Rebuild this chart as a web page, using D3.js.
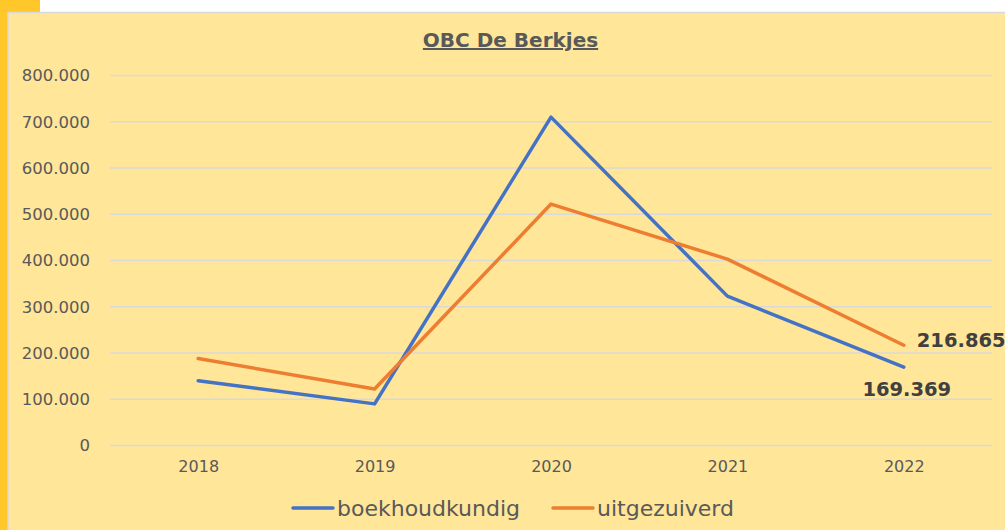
<!DOCTYPE html>
<html>
<head>
<meta charset="utf-8">
<script src="https://cdn.jsdelivr.net/npm/d3@7"></script>
<style>
  body { margin: 0; background: #fff; }
  svg { display: block; font-family: "DejaVu Sans", sans-serif; }
</style>
</head>
<body>
<div class="chart"></div>
<script>
var years = ["2018", "2019", "2020", "2021", "2022"];
var boekhoudkundig = [140000, 90000, 710000, 323000, 169369];
var uitgezuiverd = [188000, 122000, 522000, 403000, 216865];
var yTicks = [0, 100000, 200000, 300000, 400000, 500000, 600000, 700000, 800000];

var svgWidth = 1005;
var svgHeight = 530;

var margin = { top: 75.5, right: 13, bottom: 84.5, left: 110 };
var width = svgWidth - margin.left - margin.right;
var height = svgHeight - margin.top - margin.bottom;

var svg = d3.select(".chart")
  .append("svg")
  .attr("width", svgWidth)
  .attr("height", svgHeight);

// outer frame pieces
svg.append("rect").attr("x", 0).attr("y", 0).attr("width", 40).attr("height", 13).attr("fill", "#FFC729");
svg.append("rect").attr("x", 0).attr("y", 0).attr("width", 8).attr("height", svgHeight).attr("fill", "#FFC729");
svg.append("rect")
  .attr("x", 8).attr("y", 12.5)
  .attr("width", svgWidth).attr("height", svgHeight)
  .attr("fill", "#FFE699")
  .attr("stroke", "#D9D9D9")
  .attr("stroke-width", 1.5);

var chartGroup = svg.append("g")
  .attr("transform", `translate(${margin.left}, ${margin.top})`);

var xScale = d3.scalePoint()
  .domain(years)
  .range([0, width])
  .padding(0.5);

var yScale = d3.scaleLinear()
  .domain([0, 800000])
  .range([height, 0]);

var fmt = function (v) {
  return v === 0 ? "0" : d3.format(",")(v).replace(/,/g, ".");
};

// gridlines
chartGroup.selectAll(".grid")
  .data(yTicks)
  .enter()
  .append("line")
  .attr("x1", 0)
  .attr("x2", width)
  .attr("y1", d => yScale(d))
  .attr("y2", d => yScale(d))
  .attr("stroke", "#D9D9D9")
  .attr("stroke-width", 1.5);

var leftAxis = d3.axisLeft(yScale).tickValues(yTicks).tickFormat(fmt).tickSize(0).tickPadding(20);
var yAxisG = chartGroup.append("g").call(leftAxis);
yAxisG.select(".domain").remove();
yAxisG.selectAll("text")
  .attr("fill", "#595959")
  .style("font-size", "16.5px")
  .style("font-family", "DejaVu Sans, sans-serif");

var bottomAxis = d3.axisBottom(xScale).tickSize(0).tickPadding(15);
var xAxisG = chartGroup.append("g")
  .attr("transform", `translate(0, ${height})`)
  .call(bottomAxis);
xAxisG.select(".domain").remove();
xAxisG.selectAll("text")
  .attr("fill", "#595959")
  .style("font-size", "16px")
  .style("font-family", "DejaVu Sans, sans-serif");

var line = d3.line()
  .x((d, i) => xScale(years[i]))
  .y(d => yScale(d));

chartGroup.append("path")
  .datum(boekhoudkundig)
  .attr("d", line)
  .attr("fill", "none")
  .attr("stroke", "#4472C4")
  .attr("stroke-width", 3.5)
  .attr("stroke-linejoin", "round")
  .attr("stroke-linecap", "round");

chartGroup.append("path")
  .datum(uitgezuiverd)
  .attr("d", line)
  .attr("fill", "none")
  .attr("stroke", "#ED7D31")
  .attr("stroke-width", 3.5)
  .attr("stroke-linejoin", "round")
  .attr("stroke-linecap", "round");

// data labels for last point
var last = years.length - 1;
chartGroup.append("text")
  .attr("x", xScale(years[last]) + 13)
  .attr("y", yScale(uitgezuiverd[last]) + 2)
  .text(fmt(uitgezuiverd[last]))
  .attr("fill", "#404040")
  .style("font-weight", "bold")
  .style("font-size", "19.5px");

chartGroup.append("text")
  .attr("x", xScale(years[last]) + 3)
  .attr("y", yScale(boekhoudkundig[last]) + 29)
  .attr("text-anchor", "middle")
  .text(fmt(boekhoudkundig[last]))
  .attr("fill", "#404040")
  .style("font-weight", "bold")
  .style("font-size", "19.5px");

// title
svg.append("text")
  .attr("x", 510.5)
  .attr("y", 47)
  .attr("text-anchor", "middle")
  .attr("fill", "#595959")
  .style("font-weight", "bold")
  .style("font-size", "20px")
  .style("text-decoration", "underline")
  .text("OBC De Berkjes");

// legend
var legendItems = [
  { name: "boekhoudkundig", color: "#4472C4", x: 293 },
  { name: "uitgezuiverd", color: "#ED7D31", x: 553 }
];
var legend = svg.selectAll(".legend")
  .data(legendItems)
  .enter()
  .append("g")
  .attr("transform", d => `translate(${d.x}, 508)`);
legend.append("line")
  .attr("x1", 0).attr("x2", 40)
  .attr("stroke", d => d.color)
  .attr("stroke-width", 3.5)
  .attr("stroke-linecap", "round");
legend.append("text")
  .attr("x", 44)
  .attr("y", 7.5)
  .attr("fill", "#595959")
  .style("font-size", "22px")
  .text(d => d.name);
</script>
</body>
</html>
